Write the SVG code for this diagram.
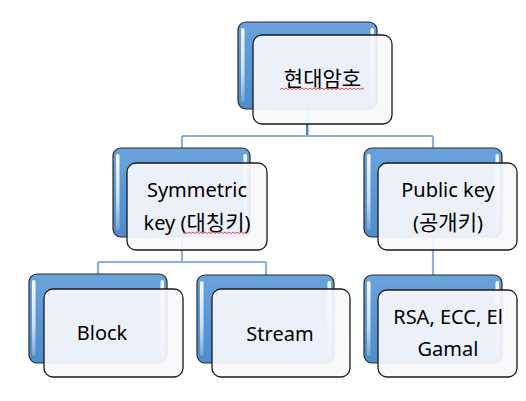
<svg xmlns="http://www.w3.org/2000/svg" width="526" height="401" viewBox="0 0 526 401">
<defs>
<linearGradient id="blueg" x1="0" y1="0" x2="0" y2="1">
<stop offset="0" stop-color="#6aa3dc"/>
<stop offset="0.5" stop-color="#5a97d4"/>
<stop offset="1" stop-color="#4f8ccb"/>
</linearGradient>
<linearGradient id="gloss" x1="0" y1="0" x2="0" y2="1">
<stop offset="0" stop-color="#ffffff" stop-opacity="0.95"/>
<stop offset="0.6" stop-color="#ffffff" stop-opacity="0.7"/>
<stop offset="1" stop-color="#ffffff" stop-opacity="0.2"/>
</linearGradient>
</defs>
<style>
.back{fill:url(#blueg);stroke:#2a2a2a;stroke-width:1.2}
.gl{fill:url(#gloss)}
.front{fill:#f8f9fc;fill-opacity:0.92;stroke:#1a1a1a;stroke-width:1.3}
.t{font-family:"Noto Sans","Noto Sans CJK KR",sans-serif;font-size:20px;fill:#000;text-anchor:middle}
.k{font-size:21px}
.con{fill:none;stroke:#8fb0d8;stroke-width:2.2}
.sq{fill:none;stroke:#e23a3a;stroke-width:0.9}
</style>
<g id="connectors">
<path class="con" d="M307.5 109 V136 M182 136 H433 M182 136 V148 M433 136 V148"/>
<path class="con" d="M182 237 V262 M98 262 H266 M98 262 V275 M266 262 V275"/>
<path class="con" d="M433 237 V275"/>
<path d="M307 124 V135" fill="none" stroke="#4d7fb8" stroke-width="2"/>
</g>
<g id="node-top">
<rect class="back" x="238" y="22" width="139" height="87" rx="8"/>
<rect class="gl" x="241" y="28" width="3.5" height="74" rx="1.7"/>
<rect class="gl" x="370.5" y="28" width="3.5" height="74" rx="1.7"/>
<rect class="front" x="253" y="35" width="139" height="89" rx="9"/>
<text class="t k" x="322.5" y="86">현대암호</text>
<path class="sq" d="M280 89.5 l2 -1.5 l2 1.5 l2 -1.5 l2 1.5 l2 -1.5 l2 1.5 l2 -1.5 l2 1.5 l2 -1.5 l2 1.5 l2 -1.5 l2 1.5 l2 -1.5 l2 1.5 l2 -1.5 l2 1.5 l2 -1.5 l2 1.5 l2 -1.5 l2 1.5 l2 -1.5 l2 1.5 l2 -1.5 l2 1.5 l2 -1.5 l2 1.5 l2 -1.5 l2 1.5 l2 -1.5 l2 1.5 l2 -1.5 l2 1.5 l2 -1.5 l2 1.5 l2 -1.5 l2 1.5 l2 -1.5 l2 1.5 l2 -1.5 l2 1.5 l2 -1.5 l2 1.5"/>
</g>
<g id="node-symmetric">
<rect class="back" x="113" y="148" width="137" height="89" rx="8"/>
<rect class="gl" x="116" y="154" width="3.5" height="76" rx="1.7"/>
<rect class="gl" x="243.5" y="154" width="3.5" height="76" rx="1.7"/>
<rect class="front" x="127" y="163" width="140" height="87" rx="9"/>
<text class="t" x="197" y="197">Symmetric</text>
<text class="t" x="197" y="230">key (<tspan class="k">대칭키</tspan>)</text>
<path class="sq" d="M183 233.5 l2 -1.5 l2 1.5 l2 -1.5 l2 1.5 l2 -1.5 l2 1.5 l2 -1.5 l2 1.5 l2 -1.5 l2 1.5 l2 -1.5 l2 1.5 l2 -1.5 l2 1.5 l2 -1.5 l2 1.5 l2 -1.5 l2 1.5 l2 -1.5 l2 1.5 l2 -1.5 l2 1.5 l2 -1.5 l2 1.5 l2 -1.5 l2 1.5 l2 -1.5 l2 1.5 l2 -1.5 l2 1.5 l2 -1.5 l2 1.5"/>
</g>
<g id="node-public">
<rect class="back" x="364" y="148" width="138" height="89" rx="8"/>
<rect class="gl" x="367" y="154" width="3.5" height="76" rx="1.7"/>
<rect class="gl" x="495.5" y="154" width="3.5" height="76" rx="1.7"/>
<rect class="front" x="378" y="163" width="139" height="87" rx="9"/>
<text class="t" x="448" y="197">Public key</text>
<text class="t" x="448" y="230">(<tspan class="k">공개키</tspan>)</text>
</g>
<g id="node-block">
<rect class="back" x="29" y="274" width="138" height="89" rx="8"/>
<rect class="gl" x="32" y="280" width="3.5" height="76" rx="1.7"/>
<rect class="gl" x="160.5" y="280" width="3.5" height="76" rx="1.7"/>
<rect class="front" x="44" y="289" width="139" height="88" rx="9"/>
<text class="t" x="102" y="340">Block</text>
</g>
<g id="node-stream">
<rect class="back" x="197" y="275" width="137" height="88" rx="8"/>
<rect class="gl" x="200" y="281" width="3.5" height="75" rx="1.7"/>
<rect class="gl" x="327.5" y="281" width="3.5" height="75" rx="1.7"/>
<rect class="front" x="212" y="289" width="138" height="88" rx="9"/>
<text class="t" x="280" y="341">Stream</text>
</g>
<g id="node-rsa">
<rect class="back" x="364" y="275" width="138" height="88" rx="8"/>
<rect class="gl" x="367" y="281" width="3.5" height="75" rx="1.7"/>
<rect class="gl" x="495.5" y="281" width="3.5" height="75" rx="1.7"/>
<rect class="front" x="378" y="290" width="139" height="87" rx="9"/>
<text class="t" x="448" y="324">RSA, ECC, El</text>
<text class="t" x="448" y="356">Gamal</text>
</g>
</svg>
